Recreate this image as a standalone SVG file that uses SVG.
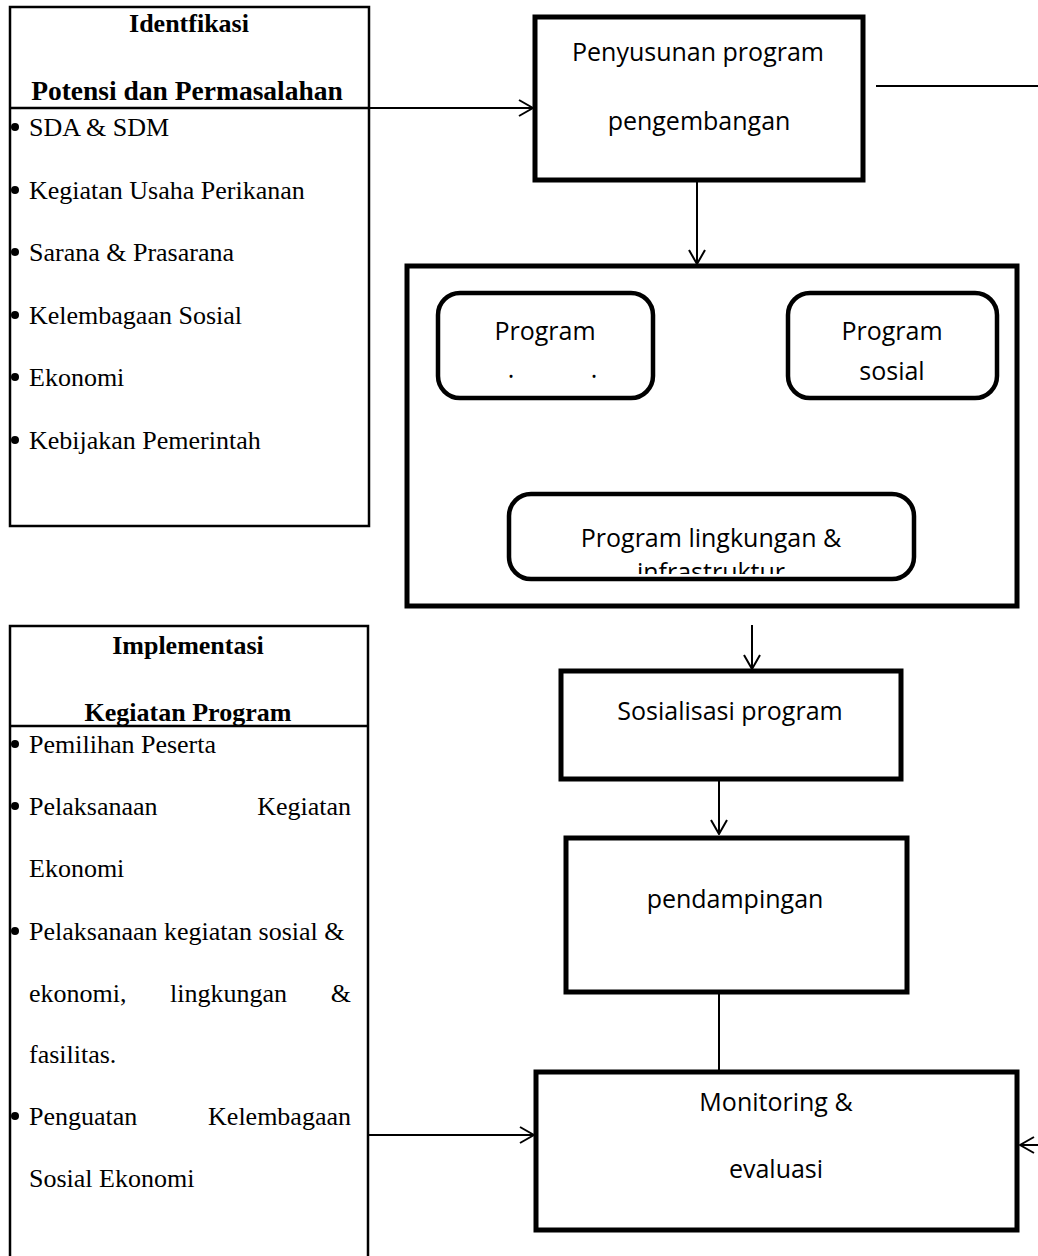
<svg xmlns="http://www.w3.org/2000/svg" width="1038" height="1256" viewBox="0 0 1038 1256">
<style>
  .serif { font-family: "Liberation Serif", "Times New Roman", serif; font-size: 26px; fill: #000; }
  .bold { font-weight: bold; }
  .sans { font-family: "Open Sans", "Liberation Sans", sans-serif; font-size: 25px; fill: #000; }
  .thin { fill: #fff; stroke: #000; stroke-width: 2.5; }
  .thick { fill: #fff; stroke: #000; stroke-width: 5; }
  .rbox { fill: #fff; stroke: #000; stroke-width: 4.5; }
  .conn { fill: none; stroke: #000; stroke-width: 2; }
  .mid { text-anchor: middle; }
  .end { text-anchor: end; }
  .dot { fill: #000; }
</style>
<defs>
  <marker id="arr" viewBox="0 0 16 18" refX="15" refY="9" markerWidth="16" markerHeight="18" markerUnits="userSpaceOnUse" orient="auto">
    <path d="M1,1 L15,9 L1,17" fill="none" stroke="#000" stroke-width="2"/>
  </marker>
  <clipPath id="clipInfra">
    <rect x="508" y="494" width="406" height="80"/>
  </clipPath>
</defs>
<rect width="1038" height="1256" fill="#fff"/>

<g id="identifikasi">
  <rect class="thin" x="10" y="7" width="359" height="519"/>
  <line x1="10" y1="108" x2="369" y2="108" stroke="#000" stroke-width="2.5"/>
  <text class="serif bold mid" x="189" y="32">Identfikasi</text>
  <text class="serif bold mid" x="187" y="100" style="font-size:27.5px">Potensi dan Permasalahan</text>
  <circle class="dot" cx="15" cy="127" r="4"/>
  <text class="serif" x="29" y="136">SDA &amp; SDM</text>
  <circle class="dot" cx="15" cy="190" r="4"/>
  <text class="serif" x="29" y="199">Kegiatan Usaha Perikanan</text>
  <circle class="dot" cx="15" cy="252" r="4"/>
  <text class="serif" x="29" y="261">Sarana &amp; Prasarana</text>
  <circle class="dot" cx="15" cy="315" r="4"/>
  <text class="serif" x="29" y="324">Kelembagaan Sosial</text>
  <circle class="dot" cx="15" cy="377" r="4"/>
  <text class="serif" x="29" y="386">Ekonomi</text>
  <circle class="dot" cx="15" cy="440" r="4"/>
  <text class="serif" x="29" y="449">Kebijakan Pemerintah</text>
</g>

<g id="implementasi">
  <path d="M10,1256 L10,626 L368,626 L368,1256" class="thin"/>
  <line x1="10" y1="726" x2="368" y2="726" stroke="#000" stroke-width="2.5"/>
  <text class="serif bold mid" x="188" y="654">Implementasi</text>
  <text class="serif bold mid" x="188" y="721">Kegiatan  Program</text>
  <circle class="dot" cx="15" cy="744" r="4"/>
  <text class="serif" x="29" y="753">Pemilihan Peserta</text>
  <circle class="dot" cx="15" cy="806" r="4"/>
  <text class="serif" x="29" y="815">Pelaksanaan</text>
  <text class="serif end" x="351" y="815">Kegiatan</text>
  <text class="serif" x="29" y="877">Ekonomi</text>
  <circle class="dot" cx="15" cy="931" r="4"/>
  <text class="serif" x="29" y="940">Pelaksanaan kegiatan sosial &amp;</text>
  <text class="serif" x="29" y="1002">ekonomi,</text>
  <text class="serif" x="170" y="1002">lingkungan</text>
  <text class="serif end" x="351" y="1002">&amp;</text>
  <text class="serif" x="29" y="1063">fasilitas.</text>
  <circle class="dot" cx="15" cy="1116" r="4"/>
  <text class="serif" x="29" y="1125">Penguatan</text>
  <text class="serif end" x="351" y="1125">Kelembagaan</text>
  <text class="serif" x="29" y="1187">Sosial Ekonomi</text>
</g>

<g id="penyusunan">
  <rect class="thick" x="535" y="17" width="328" height="163"/>
  <text class="sans mid" x="698" y="61">Penyusunan program</text>
  <text class="sans mid" x="699" y="130">pengembangan</text>
</g>

<g id="program-container">
  <rect class="thick" x="407" y="266" width="610" height="340"/>
</g>

<g id="program-ekonomi">
  <rect class="rbox" x="438" y="293" width="215" height="105" rx="22"/>
  <text class="sans mid" x="545" y="340">Program</text>
  <text class="sans mid" x="511" y="378">.</text>
  <text class="sans mid" x="594" y="378">.</text>
</g>

<g id="program-sosial">
  <rect class="rbox" x="788" y="293" width="209" height="105" rx="22"/>
  <text class="sans mid" x="892" y="340">Program</text>
  <text class="sans mid" x="892" y="380">sosial</text>
</g>

<g id="program-lingkungan">
  <rect class="rbox" x="509" y="494" width="405" height="85" rx="22"/>
  <text class="sans mid" x="711" y="547">Program lingkungan &amp;</text>
  <text class="sans mid" x="711" y="581" clip-path="url(#clipInfra)">infrastruktur</text>
</g>

<g id="sosialisasi">
  <rect class="thick" x="561" y="671" width="340" height="108"/>
  <text class="sans mid" x="730" y="720">Sosialisasi program</text>
</g>

<g id="pendampingan">
  <rect class="thick" x="566" y="838" width="341" height="154"/>
  <text class="sans mid" x="735" y="908">pendampingan</text>
</g>

<g id="monitoring">
  <rect class="thick" x="536" y="1072" width="481" height="158"/>
  <text class="sans mid" x="776" y="1111">Monitoring &amp;</text>
  <text class="sans mid" x="776" y="1178">evaluasi</text>
</g>

<g id="connectors">
  <line class="conn" x1="369" y1="108" x2="533" y2="108" marker-end="url(#arr)"/>
  <line class="conn" x1="876" y1="86" x2="1038" y2="86"/>
  <line class="conn" x1="697" y1="182" x2="697" y2="264" marker-end="url(#arr)"/>
  <line class="conn" x1="752" y1="625" x2="752" y2="669" marker-end="url(#arr)"/>
  <line class="conn" x1="719" y1="781" x2="719" y2="834" marker-end="url(#arr)"/>
  <line class="conn" x1="719" y1="992" x2="719" y2="1070"/>
  <line class="conn" x1="368" y1="1135" x2="534" y2="1135" marker-end="url(#arr)"/>
  <line class="conn" x1="1040" y1="1145" x2="1020" y2="1145" marker-end="url(#arr)"/>
</g>
</svg>
